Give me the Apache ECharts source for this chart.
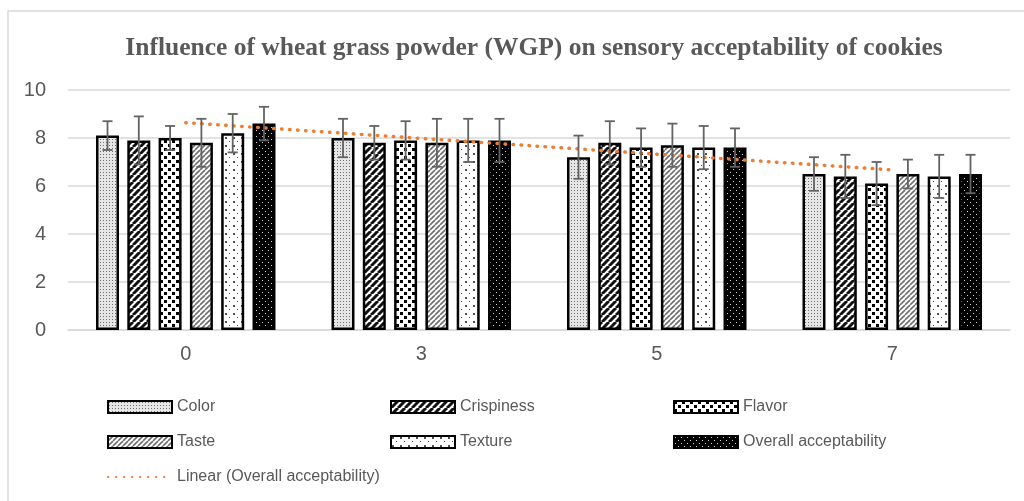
<!DOCTYPE html>
<html>
<head>
<meta charset="utf-8">
<script src="https://cdn.jsdelivr.net/npm/echarts@6/dist/echarts.min.js"></script>
<style>
html,body{margin:0;padding:0;background:#fff;}
#main{width:1024px;height:501px;}
</style>
</head>
<body>
<div id="main"></div>
<script>
// data
var levels = ['0', '3', '5', '7'];
var seriesNames = ['Color', 'Crispiness', 'Flavor', 'Taste', 'Texture', 'Overall acceptability'];
var color = [8.1, 8.0, 7.2, 6.5];
var crispiness = [7.9, 7.8, 7.8, 6.4];
var flavor = [8.0, 7.9, 7.6, 6.1];
var taste = [7.8, 7.8, 7.7, 6.5];
var texture = [8.2, 7.9, 7.6, 6.4];
var overall = [8.6, 7.9, 7.6, 6.5];
// standard deviations (error bar half lengths)
var colorSd = [0.6, 0.8, 0.9, 0.7];
var crispinessSd = [1.0, 0.7, 0.9, 0.9];
var flavorSd = [0.5, 0.8, 0.8, 0.9];
var tasteSd = [1.0, 1.0, 0.9, 0.6];
var textureSd = [0.8, 0.9, 0.9, 0.9];
var overallSd = [0.7, 0.9, 0.8, 0.8];
// excel trendline end points (Linear, Overall acceptability)
var trendName = 'Linear (Overall acceptability)';
var trend = [8.64, '-', '-', 6.67];
var yTicks = [0, 10, 2];

var values = [color, crispiness, flavor, taste, texture, overall];
var sds = [colorSd, crispinessSd, flavorSd, tasteSd, textureSd, overallSd];

var BAR_W = 23, BAR_GAP = 8.3;

// fill patterns
function pattern(size, draw) {
    var c = document.createElement('canvas');
    c.width = size; c.height = size;
    var ctx = c.getContext('2d');
    draw(ctx, size);
    return { image: c, repeat: 'repeat' };
}
function stripes(bg, fg, lw) {
    return function (ctx, s) {
        ctx.fillStyle = bg; ctx.fillRect(0, 0, s, s);
        ctx.strokeStyle = fg; ctx.lineWidth = lw;
        for (var k = -1; k <= 1; k++) {
            ctx.beginPath();
            ctx.moveTo(k * s, s); ctx.lineTo(k * s + s, 0);
            ctx.stroke();
        }
    };
}
var fills = [
    pattern(3, function (ctx, s) { // color: fine dots
        ctx.fillStyle = '#e6e6e6'; ctx.fillRect(0, 0, s, s);
        ctx.fillStyle = '#6f6f6f'; ctx.fillRect(1, 1, 1, 1);
    }),
    pattern(7, stripes('#ffffff', '#111111', 3)),
    pattern(8, function (ctx, s) { // flavor: staggered squares
        ctx.fillStyle = '#ffffff'; ctx.fillRect(0, 0, s, s);
        ctx.fillStyle = '#000000';
        ctx.fillRect(0, 0, 3, 3); ctx.fillRect(4, 4, 3, 3);
    }),
    pattern(5, stripes('#ffffff', '#6f6f6f', 1.6)),
    pattern(8, function (ctx, s) { // texture: sparse dots
        ctx.fillStyle = '#ffffff'; ctx.fillRect(0, 0, s, s);
        ctx.fillStyle = '#4f4f4f';
        ctx.fillRect(1, 1, 2, 2); ctx.fillRect(5, 5, 1, 1);
    }),
    pattern(6, function (ctx, s) { // overall: black with white dots
        ctx.fillStyle = '#000000'; ctx.fillRect(0, 0, s, s);
        ctx.fillStyle = '#d0d0d0';
        ctx.fillRect(1, 1, 1, 1); ctx.fillRect(4, 4, 1, 1);
    })
];

function errorRender(idx) {
    var offset = (idx - 2.5) * (BAR_W + BAR_GAP);
    return function (params, api) {
        var cat = api.value(0);
        var lo = api.coord([cat, api.value(1)]);
        var hi = api.coord([cat, api.value(2)]);
        var x = lo[0] + offset;
        var st = { stroke: '#636363', lineWidth: 1.8 };
        return {
            type: 'group',
            children: [
                { type: 'line', shape: { x1: x, y1: lo[1], x2: x, y2: hi[1] }, style: st },
                { type: 'line', shape: { x1: x - 5, y1: hi[1], x2: x + 5, y2: hi[1] }, style: st },
                { type: 'line', shape: { x1: x - 5, y1: lo[1], x2: x + 5, y2: lo[1] }, style: st }
            ]
        };
    };
}

var series = [];
seriesNames.forEach(function (name, i) {
    series.push({
        name: name,
        type: 'bar',
        barWidth: BAR_W,
        barGap: (BAR_GAP / BAR_W * 100).toFixed(1) + '%',
        itemStyle: { color: fills[i], borderColor: '#000', borderWidth: 2.5 },
        emphasis: { disabled: true },
        data: values[i]
    });
});
seriesNames.forEach(function (name, i) {
    series.push({
        type: 'custom',
        renderItem: errorRender(i),
        encode: { x: 0, y: [1, 2] },
        z: 5,
        silent: true,
        data: values[i].map(function (v, j) { return [j, v - sds[i][j], v + sds[i][j]]; })
    });
});
series.push({
    name: trendName,
    type: 'line',
    data: trend,
    connectNulls: true,
    showSymbol: false,
    symbol: 'none',
    z: 4,
    lineStyle: { color: '#ED7D31', width: 3.5, type: [0.5, 7.5], cap: 'round' },
    itemStyle: { color: '#ED7D31' }
});

function barItem(name) { return { name: name, icon: 'rect' }; }

var chart = echarts.init(document.getElementById('main'));
var legendBase = {
    orient: 'vertical',
    top: 394,
    itemWidth: 64,
    itemHeight: 12,
    itemGap: 19,
    selectedMode: false,
    textStyle: { fontFamily: 'Liberation Sans', fontSize: 16, color: '#595959', lineHeight: 16 }
};
var option = {
    animation: false,
    backgroundColor: '#fff',
    title: {
        text: 'Influence of wheat grass powder (WGP) on sensory acceptability of cookies',
        left: 529,
        top: 30,
        textAlign: 'center',
        textStyle: { fontFamily: 'Liberation Serif', fontWeight: 'bold', fontSize: 25.5, color: '#595959' }
    },
    graphic: [{
        type: 'rect',
        shape: { x: 8, y: 11, width: 1040, height: 520 },
        style: { fill: 'none', stroke: '#d9d9d9', lineWidth: 1.5 },
        silent: true, z: -1
    }],
    legend: [
        Object.assign({ left: 102, data: [barItem('Color'), barItem('Taste'), { name: trendName, itemStyle: { opacity: 0 } }] }, legendBase),
        Object.assign({ left: 385, data: [barItem('Crispiness'), barItem('Texture')] }, legendBase),
        Object.assign({ left: 668, data: [barItem('Flavor'), barItem('Overall acceptability')] }, legendBase)
    ],
    grid: { left: 68, right: 14, top: 90, height: 240 },
    xAxis: {
        type: 'category',
        data: levels,
        axisTick: { show: false },
        axisLine: { lineStyle: { color: '#d9d9d9', width: 1.5 } },
        axisLabel: { fontFamily: 'Liberation Sans', fontSize: 20, color: '#595959', margin: 14 }
    },
    yAxis: {
        type: 'value',
        min: yTicks[0],
        max: yTicks[1],
        interval: yTicks[2],
        axisLine: { show: false },
        axisTick: { show: false },
        splitLine: { lineStyle: { color: '#d9d9d9', width: 1.5 } },
        axisLabel: { fontFamily: 'Liberation Sans', fontSize: 20, color: '#595959', margin: 22 }
    },
    series: series
};
chart.setOption(option);
</script>
</body>
</html>
